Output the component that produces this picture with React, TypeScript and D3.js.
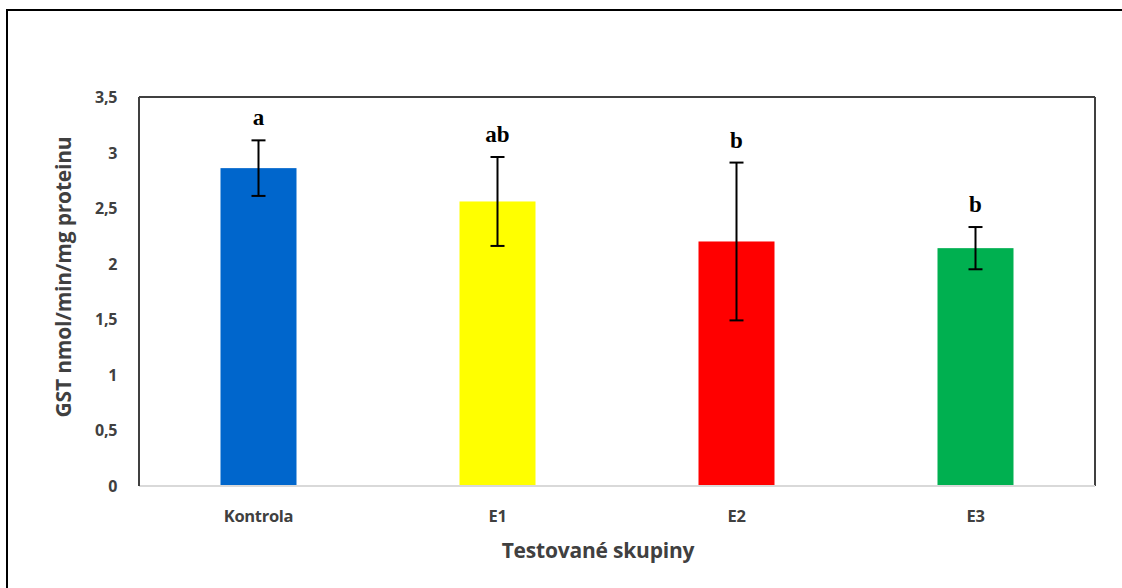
import React from "react";
import * as d3 from "d3";

const categories = ["Kontrola", "E1", "E2", "E3"];
const means = [2.86, 2.56, 2.2, 2.14];
const errors = [0.25, 0.4, 0.71, 0.19];
const letters = ["a", "ab", "b", "b"];
const colors = ["#0066CC", "#FFFF00", "#FF0000", "#00B050"];
const yTicks = [0, 0.5, 1, 1.5, 2, 2.5, 3, 3.5];

const W = 1122;
const H = 588;
const plot = { left: 139, right: 1095, top: 97, bottom: 486 };

export default function App() {
  const x = d3
    .scaleBand<string>()
    .domain(categories)
    .range([plot.left, plot.right])
    .paddingInner(0.682)
    .paddingOuter(0.341);
  const y = d3.scaleLinear().domain([0, 3.5]).range([plot.bottom, plot.top]);
  const fmt = (v: number) => String(v).replace(".", ",");
  const sans = "'Open Sans', 'Noto Sans', sans-serif";

  return (
    <svg
      width={W}
      height={H}
      style={{ position: "absolute", left: 0, top: 0, background: "#fff" }}
    >
      <rect x={7} y={10} width={1140} height={600} fill="#fff" stroke="#000" strokeWidth={2} />
      <line x1={plot.left} x2={plot.right} y1={plot.top} y2={plot.top} stroke="#404040" strokeWidth={2} />
      <line x1={plot.right} x2={plot.right} y1={plot.top} y2={plot.bottom} stroke="#404040" strokeWidth={2} />
      {categories.map((c, i) => {
        const bx = x(c)!;
        const bw = x.bandwidth();
        const cx = bx + bw / 2;
        const yTop = y(means[i] + errors[i]);
        const yBot = y(means[i] - errors[i]);
        return (
          <g key={c}>
            <rect x={bx} y={y(means[i])} width={bw} height={plot.bottom - y(means[i])} fill={colors[i]} />
            <line x1={cx} x2={cx} y1={yTop} y2={yBot} stroke="#000" strokeWidth={2} />
            <line x1={cx - 7} x2={cx + 7} y1={yTop} y2={yTop} stroke="#000" strokeWidth={2} />
            <line x1={cx - 7} x2={cx + 7} y1={yBot} y2={yBot} stroke="#000" strokeWidth={2} />
            <text
              x={cx}
              y={yTop - 15}
              textAnchor="middle"
              fontFamily="'Liberation Serif', 'Times New Roman', serif"
              fontWeight="bold"
              fontSize={23}
              fill="#000"
            >
              {letters[i]}
            </text>
            <text
              x={cx}
              y={522}
              textAnchor="middle"
              fontFamily={sans}
              fontWeight="bold"
              fontSize={16.5}
              letterSpacing={-0.3}
              fill="#404040"
            >
              {c}
            </text>
          </g>
        );
      })}
      <line x1={plot.left} x2={plot.right} y1={plot.bottom} y2={plot.bottom} stroke="#d9d9d9" strokeWidth={2} />
      <line x1={plot.left} x2={plot.left} y1={plot.top} y2={plot.bottom} stroke="#404040" strokeWidth={2} />
      {yTicks.map((t) => (
        <text
          key={t}
          x={117}
          y={y(t) + 6}
          textAnchor="end"
          fontFamily={sans}
          fontWeight="bold"
          fontSize={16}
          letterSpacing={-0.3}
          fill="#404040"
        >
          {fmt(t)}
        </text>
      ))}
      <text
        transform={`translate(71, 277) rotate(-90)`}
        textAnchor="middle"
        fontFamily={sans}
        fontWeight="bold"
        fontSize={21}
        letterSpacing={-0.2}
        fill="#404040"
      >
        GST nmol/min/mg proteinu
      </text>
      <text
        x={598}
        y={558}
        textAnchor="middle"
        fontFamily={sans}
        fontWeight="bold"
        fontSize={21}
        letterSpacing={-0.2}
        fill="#404040"
      >
        Testované skupiny
      </text>
    </svg>
  );
}
